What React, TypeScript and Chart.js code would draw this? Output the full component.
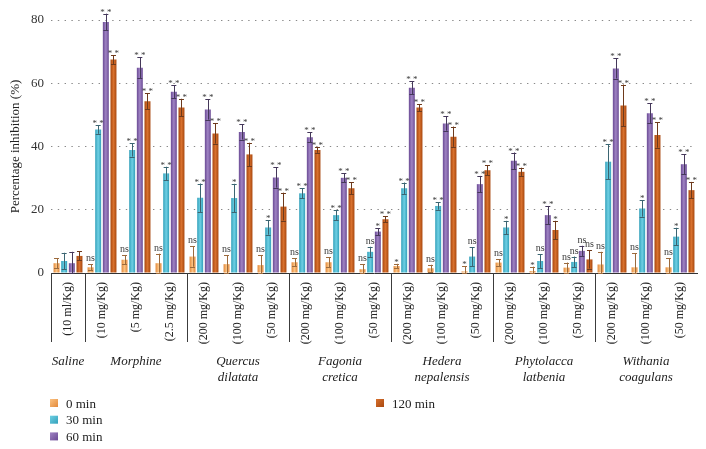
import React, { useEffect, useRef } from "react";
import { Chart, registerables } from "chart.js";

Chart.register(...registerables);

// ---------- data ----------
const doseLabels = [
  "(10 ml/Kg)",
  "(10 mg/Kg)", "(5 mg/Kg)", "(2.5 mg/Kg)",
  "(200 mg/Kg)", "(100 mg/Kg)", "(50 mg/Kg)",
  "(200 mg/Kg)", "(100 mg/Kg)", "(50 mg/Kg)",
  "(200 mg/Kg)", "(100 mg/Kg)", "(50 mg/Kg)",
  "(200 mg/Kg)", "(100 mg/Kg)", "(50 mg/Kg)",
  "(200 mg/Kg)", "(100 mg/Kg)", "(50 mg/Kg)",
];
const groupNames = [
  ["Saline"],
  ["Morphine"],
  ["Quercus", "dilatata"],
  ["Fagonia", "cretica"],
  ["Hedera", "nepalensis"],
  ["Phytolacca", "latbenia"],
  ["Withania", "coagulans"],
];
const groupSizes = [1, 3, 3, 3, 3, 3, 3];
const seriesNames = ["0 min", "30 min", "60 min", "120 min"];

const min0 = [3.1, 1.8, 4.2, 3.1, 5.2, 2.8, 2.5, 3.4, 3.4, 1.2, 2.2, 1.5, 0.5, 3.3, 0.6, 1.7, 2.7, 1.8, 1.8];
const min30 = [3.8, 45.4, 38.9, 31.5, 23.8, 23.7, 14.4, 25.2, 18.3, 6.7, 26.8, 21.2, 5.2, 14.4, 3.8, 3.5, 35.2, 20.4, 11.5];
const min60 = [3.1, 79.4, 64.9, 57.3, 51.7, 44.6, 30.2, 42.9, 30.1, 13.1, 58.6, 47.3, 28.1, 35.5, 18.3, 7.0, 64.7, 50.5, 34.4];
const min120 = [5.4, 67.5, 54.3, 52.3, 44.1, 37.5, 21.0, 38.9, 26.8, 17.0, 52.3, 43.1, 32.5, 32.0, 13.6, 4.3, 53.0, 43.6, 26.2];

const err0 = [1.6, 1.0, 1.5, 3.0, 3.2, 2.8, 3.2, 1.3, 1.6, 1.6, 0.7, 1.1, 1.6, 1.1, 1.4, 1.6, 4.0, 4.4, 2.8];
const err30 = [2.6, 1.4, 2.1, 2.1, 4.5, 4.5, 2.3, 1.6, 1.6, 1.6, 1.8, 1.2, 3.0, 2.1, 2.2, 1.7, 5.6, 2.6, 2.8];
const err60 = [3.6, 2.6, 3.3, 2.1, 3.2, 2.4, 3.2, 1.6, 1.4, 1.1, 2.1, 2.3, 2.6, 2.6, 2.9, 1.6, 3.2, 3.2, 3.2];
const err120 = [1.4, 1.4, 2.6, 2.8, 3.2, 3.7, 4.4, 0.9, 1.9, 1.0, 1.1, 3.2, 1.6, 1.3, 2.9, 2.9, 6.6, 4.0, 2.6];

const sig0 = ["", "ns", "ns", "ns", "ns", "ns", "ns", "ns", "ns", "ns", "*", "ns", "*", "ns", "*", "ns", "ns", "ns", "ns"];
const sig30 = ["", "**", "**", "**", "**", "*", "*", "**", "**", "ns", "**", "**", "ns", "*", "ns", "ns", "**", "*", "*"];
const sig60 = ["", "**", "**", "**", "**", "**", "**", "**", "**", "*", "**", "**", "**", "**", "**", "ns", "**", "**", "**"];
const sig120 = ["", "**", "**", "**", "**", "**", "**", "**", "**", "**", "**", "**", "**", "**", "*", "ns", "**", "**", "**"];

const yTicks = [0, 20, 40, 60, 80];
const yTitle = "Percentage inhibition (%)";

// ---------- styles ----------
const seriesValues = [min0, min30, min60, min120];
const seriesErrors = [err0, err30, err60, err120];
const seriesSig = [sig0, sig30, sig60, sig120];

const SERIF = '"Liberation Serif", "DejaVu Serif", serif';
const palettes = [
  { edge: "#e3893a", mid: "#fbc383", err: "#9c6a3c" },
  { edge: "#32a0ba", mid: "#6fd0e4", err: "#3b6572" },
  { edge: "#6a4a94", mid: "#a084c4", err: "#45385a" },
  { edge: "#a9480f", mid: "#d8712e", err: "#6e3a1c" },
];
const CAT_PCT = 0.9;
const BAR_PCT = 0.78;

function barFill(ctx: any, s: number) {
  const chart = ctx.chart;
  const xs = chart.scales && chart.scales.x;
  const p = palettes[s];
  if (!xs || ctx.dataIndex == null || !isFinite(xs.left) || xs.right <= xs.left) return p.edge;
  const n = doseLabels.length;
  const catW = ((xs.right - xs.left) / n) * CAT_PCT;
  const slot = catW / 4;
  const bw = slot * BAR_PCT;
  const cx = xs.getPixelForValue(ctx.dataIndex) - catW / 2 + slot * (s + 0.5);
  const g = chart.ctx.createLinearGradient(cx - bw / 2, 0, cx + bw / 2, 0);
  g.addColorStop(0, p.edge);
  g.addColorStop(0.5, p.mid);
  g.addColorStop(1, p.edge);
  return g;
}

const overlay = {
  id: "overlay",
  afterDatasetsDraw(chart: any) {
    const ctx = chart.ctx;
    const ys = chart.scales.y;
    ctx.save();
    seriesValues.forEach((vals, s) => {
      const meta = chart.getDatasetMeta(s);
      const errs = seriesErrors[s];
      const sig = seriesSig[s];
      meta.data.forEach((bar: any, i: number) => {
        const x = bar.x;
        const w = bar.width;
        const yTop = ys.getPixelForValue(vals[i] + errs[i]);
        const yBot = ys.getPixelForValue(Math.max(0, vals[i] - errs[i]));
        ctx.strokeStyle = palettes[s].err;
        ctx.lineWidth = 1;
        ctx.beginPath();
        ctx.moveTo(Math.round(x) + 0.5, yTop);
        ctx.lineTo(Math.round(x) + 0.5, yBot);
        const hw = w * 0.42;
        ctx.moveTo(x - hw, Math.round(yTop) + 0.5);
        ctx.lineTo(x + hw, Math.round(yTop) + 0.5);
        ctx.moveTo(x - hw, Math.round(yBot) + 0.5);
        ctx.lineTo(x + hw, Math.round(yBot) + 0.5);
        ctx.stroke();
        const t = sig[i];
        if (t) {
          ctx.fillStyle = "#3a3a3a";
          ctx.textAlign = "center";
          ctx.textBaseline = "alphabetic";
          if (t === "ns") {
            ctx.font = `10px ${SERIF}`;
            ctx.fillText(t, x, yTop - 3);
          } else {
            ctx.font = `9px ${SERIF}`;
            ctx.fillText(t === "**" ? "* *" : "*", x, yTop + 1);
          }
        }
      });
    });
    ctx.restore();
  },
  afterDraw(chart: any) {
    const ctx = chart.ctx;
    const xs = chart.scales.x;
    const area = chart.chartArea;
    const n = doseLabels.length;
    const cw = (xs.right - xs.left) / n;
    ctx.save();
    // group dividers and names
    let start = 0;
    groupSizes.forEach((size, g) => {
      const xl = xs.getPixelForValue(start) - cw / 2;
      ctx.strokeStyle = "#3c3c3c";
      ctx.lineWidth = 1;
      ctx.beginPath();
      ctx.moveTo(Math.round(xl) + 0.5, area.bottom);
      ctx.lineTo(Math.round(xl) + 0.5, area.bottom + 69);
      ctx.stroke();
      const xc = (xs.getPixelForValue(start) + xs.getPixelForValue(start + size - 1)) / 2;
      ctx.fillStyle = "#222";
      ctx.font = `italic 13px ${SERIF}`;
      ctx.textAlign = "center";
      ctx.textBaseline = "alphabetic";
      groupNames[g].forEach((line, k) => {
        ctx.fillText(line, xc, area.bottom + 92 + k * 16);
      });
      start += size;
    });
    // legend
    const legendPos = [
      [area.left - 1, 399],
      [area.left - 1, 415.7],
      [area.left - 1, 432.4],
      [376, 399],
    ];
    seriesNames.forEach((name, s) => {
      const [lx, ly] = legendPos[s];
      const p = palettes[s];
      const g = ctx.createLinearGradient(lx, ly, lx + 8, ly + 8);
      g.addColorStop(0, p.mid);
      g.addColorStop(1, p.edge);
      ctx.fillStyle = g;
      ctx.fillRect(lx, ly, 8, 8);
      ctx.fillStyle = "#222";
      ctx.font = `13px ${SERIF}`;
      ctx.textAlign = "left";
      ctx.textBaseline = "alphabetic";
      ctx.fillText(name, lx + 16, ly + 8.5);
    });
    ctx.restore();
  },
};

export default function App() {
  const ref = useRef<HTMLCanvasElement | null>(null);
  useEffect(() => {
    if (!ref.current) return;
    const chart = new Chart(ref.current, {
      type: "bar",
      data: {
        labels: doseLabels,
        datasets: seriesValues.map((vals, s) => ({
          label: seriesNames[s],
          data: vals,
          backgroundColor: (c: any) => barFill(c, s),
          borderWidth: 0,
          categoryPercentage: CAT_PCT,
          barPercentage: BAR_PCT,
        })),
      },
      options: {
        responsive: false,
        animation: false,
        devicePixelRatio: 1,
        layout: { padding: { top: 20, right: 9, left: 0, bottom: 0 } },
        plugins: {
          legend: { display: false },
          tooltip: { enabled: false },
        },
        scales: {
          x: {
            grid: { display: false, drawTicks: false },
            border: { display: true, color: "#333", width: 1 },
            ticks: {
              autoSkip: false,
              maxRotation: 90,
              minRotation: 90,
              padding: 9,
              color: "#222",
              font: { family: SERIF, size: 12 },
            },
            afterFit: (scale: any) => {
              scale.height = 176;
            },
          },
          y: {
            min: 0,
            max: 80,
            afterBuildTicks: (scale: any) => {
              scale.ticks = yTicks.map((v) => ({ value: v }));
            },
            grid: { color: "#8a8a8a", lineWidth: 1, drawTicks: false },
            border: { display: false, dash: [1.4, 5.4] },
            ticks: {
              padding: 7,
              color: "#333",
              font: { family: SERIF, size: 13 },
            },
            title: {
              display: true,
              text: yTitle,
              color: "#222",
              font: { family: SERIF, size: 13 },
              padding: { top: 8, bottom: 0 },
            },
            afterFit: (scale: any) => {
              scale.width = 51;
            },
          },
        },
      },
      plugins: [overlay],
    } as any);
    return () => chart.destroy();
  }, []);
  return (
    <canvas
      ref={ref}
      width={706}
      height={449}
      style={{ display: "block", position: "absolute", left: 0, top: 0 }}
    />
  );
}
